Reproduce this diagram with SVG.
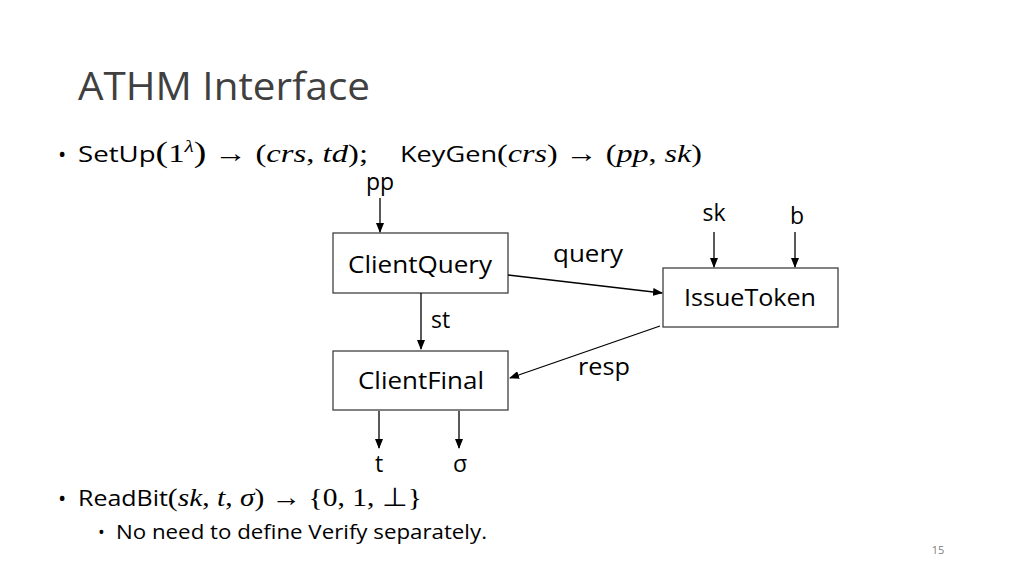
<svg xmlns="http://www.w3.org/2000/svg" width="1024" height="576" viewBox="0 0 1024 576">
<style>
text{font-family:"Open Sans","Liberation Sans",sans-serif;fill:#000}
.m{font-family:"Liberation Serif",serif;font-style:italic}
.r{font-family:"Liberation Serif",serif}
.box{fill:#fff;stroke:#404040;stroke-width:1.3}
.ln{stroke:#000;stroke-width:1.3;fill:none;marker-end:url(#a)}
</style>
<defs><marker id="a" markerWidth="10" markerHeight="8" refX="9" refY="4" orient="auto" markerUnits="userSpaceOnUse"><path d="M0,0 L10,4 L0,8 z" fill="#000"/></marker></defs>
<rect width="1024" height="576" fill="#fff"/>
<text x="78" y="100" font-size="38" textLength="292" lengthAdjust="spacingAndGlyphs" style="fill:#404040">ATHM Interface</text>
<text x="58" y="162" font-size="22">•</text>
<text x="78" y="162" font-size="22" textLength="290" lengthAdjust="spacingAndGlyphs">SetUp<tspan class="r" font-size="30">(</tspan><tspan class="r" font-size="26">1</tspan><tspan class="m" font-size="17" dy="-10">λ</tspan><tspan class="r" font-size="30" dy="10">)</tspan><tspan class="r" font-size="26"> → (</tspan><tspan class="m" font-size="26">crs</tspan><tspan class="r" font-size="26">, </tspan><tspan class="m" font-size="26">td</tspan><tspan class="r" font-size="26">);</tspan></text>
<text x="400" y="162" font-size="22" textLength="302" lengthAdjust="spacingAndGlyphs">KeyGen<tspan class="r" font-size="26">(</tspan><tspan class="m" font-size="26">crs</tspan><tspan class="r" font-size="26">) → (</tspan><tspan class="m" font-size="26">pp</tspan><tspan class="r" font-size="26">, </tspan><tspan class="m" font-size="26">sk</tspan><tspan class="r" font-size="26">)</tspan></text>
<g id="ClientQuery"><rect class="box" x="333" y="233" width="175" height="60"/><text x="348" y="273" font-size="23" textLength="144" lengthAdjust="spacingAndGlyphs">ClientQuery</text></g>
<g id="IssueToken"><rect class="box" x="663" y="268" width="175" height="59"/><text x="684" y="306" font-size="23" textLength="132" lengthAdjust="spacingAndGlyphs">IssueToken</text></g>
<g id="ClientFinal"><rect class="box" x="333" y="351" width="175" height="59"/><text x="358" y="389" font-size="23" textLength="126" lengthAdjust="spacingAndGlyphs">ClientFinal</text></g>
<g id="connectors">
<line class="ln" x1="380" y1="198" x2="380" y2="232"/>
<line class="ln" x1="714" y1="232" x2="714" y2="267"/>
<line class="ln" x1="795" y1="232" x2="795" y2="267"/>
<line class="ln" x1="508" y1="275" x2="662" y2="293"/>
<line class="ln" x1="421" y1="293" x2="421" y2="349"/>
<line class="ln" x1="660" y1="326" x2="510" y2="378"/>
<line class="ln" x1="379" y1="411" x2="379" y2="448"/>
<line class="ln" x1="459" y1="411" x2="459" y2="448"/>
</g>
<g font-size="23">
<text x="380" y="190" text-anchor="middle">pp</text>
<text x="714" y="221" text-anchor="middle">sk</text>
<text x="797" y="224" text-anchor="middle">b</text>
<text x="553" y="262" textLength="70" lengthAdjust="spacingAndGlyphs">query</text>
<text x="431" y="328">st</text>
<text x="578" y="375" textLength="52" lengthAdjust="spacingAndGlyphs">resp</text>
<text x="379" y="472" text-anchor="middle">t</text>
<text x="460" y="472" text-anchor="middle">σ</text>
</g>
<text x="58" y="506" font-size="22">•</text>
<text x="78" y="506" font-size="22" textLength="344" lengthAdjust="spacingAndGlyphs">ReadBit<tspan class="r" font-size="26">(</tspan><tspan class="m" font-size="26">sk</tspan><tspan class="r" font-size="26">, </tspan><tspan class="m" font-size="26">t</tspan><tspan class="r" font-size="26">, </tspan><tspan class="m" font-size="26">σ</tspan><tspan class="r" font-size="26">) → {0, 1, ⊥}</tspan></text>
<text x="98" y="539" font-size="18">•</text>
<text x="116" y="539" font-size="20" textLength="371" lengthAdjust="spacingAndGlyphs">No need to define Verify separately.</text>
<text x="938" y="554" font-size="11" text-anchor="middle" style="fill:#808080">15</text>
</svg>
